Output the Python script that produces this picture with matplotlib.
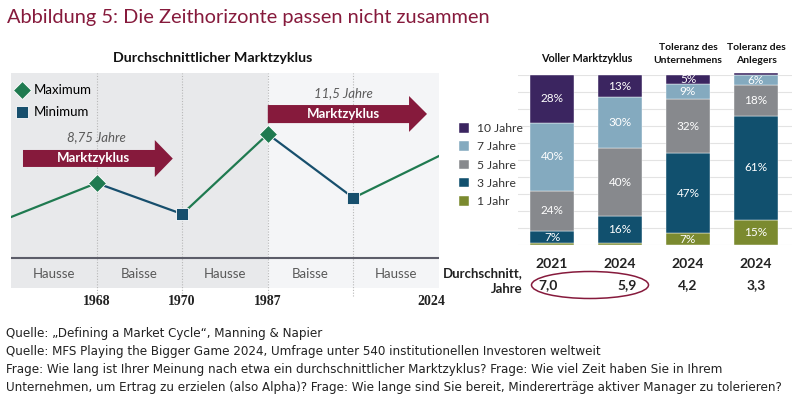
import numpy as np
import matplotlib
matplotlib.use("Agg")
from matplotlib import pyplot as plt
from matplotlib import patches
from matplotlib import font_manager
from matplotlib.lines import Line2D

# ---------------------------------------------------------
# data
# ---------------------------------------------------------

# left panel: stylised market cycle
phases = ["Hausse", "Baisse", "Hausse", "Baisse", "Hausse"]
cycle_years = ["", "1968", "1970", "1987", "", "2024"]
cycle_level = [33, 48.8, 34.4, 71.6, 41.9, 61.4]
cycle_lengths = ["8,75 Jahre", "11,5 Jahre"]

# right panel: survey answers (share in %)
bar_years = ["2021", "2024", "2024", "2024"]
bar_groups = ["Voller Marktzyklus", "Toleranz des\nUnternehmens", "Toleranz des\nAnlegers"]
share_1 = [1, 1, 7, 15]
share_3 = [7, 16, 47, 61]
share_5 = [24, 40, 32, 18]
share_7 = [40, 30, 9, 6]
share_10 = [28, 13, 5, 1]
series_names = ["1 Jahr", "3 Jahre", "5 Jahre", "7 Jahre", "10 Jahre"]
averages = ["7,0", "5,9", "4,2", "3,3"]

footer = [
    "Quelle: \u201eDefining a Market Cycle\u201c, Manning & Napier",
    "Quelle: MFS Playing the Bigger Game 2024, Umfrage unter 540 institutionellen Investoren weltweit",
    "Frage: Wie lang ist Ihrer Meinung nach etwa ein durchschnittlicher Marktzyklus? Frage: Wie viel Zeit haben Sie in Ihrem",
    "Unternehmen, um Ertrag zu erzielen (also Alpha)? Frage: Wie lange sind Sie bereit, Mindererträge aktiver Manager zu tolerieren?",
]

# colours
crimson = "#861a3c"
green = "#1f7a50"
blue = "#174f6d"
series_colors = ["#7b8a2f", "#11506e", "#87898d", "#84aabf", "#3b2560"]

plt.rcParams["font.family"] = ["Lato", "DejaVu Sans"]

# footer uses a narrow face if one is installed
narrow = [f for f in font_manager.fontManager.ttflist
          if str(f.stretch) in ("condensed", "semi-condensed", "extra-condensed")
          and f.style == "normal" and f.weight in (400, "normal", "regular")]
if narrow:
    foot_family = [narrow[0].name, "DejaVu Sans"]
    foot_stretch = narrow[0].stretch
else:
    foot_family = ["Roboto", "DejaVu Sans"]
    foot_stretch = "normal"

fig = plt.figure(figsize=(8, 3.99), dpi=100)


def fx(px):
    return px / 800


def fy(py):
    return (399 - py) / 399


# ---------------------------------------------------------
# title + footer
# ---------------------------------------------------------
fig.text(fx(7), fy(18), "Abbildung 5: Die Zeithorizonte passen nicht zusammen",
         color=crimson, fontsize=14.4, va="center", ha="left")

foot_texts = []
for i, line in enumerate(footer):
    t = fig.text(fx(6), fy(334 + i * 17.8), line, fontsize=10.5, va="center", ha="left",
                 color="#222222", family=foot_family, fontstretch=foot_stretch)
    foot_texts.append(t)

# shrink footer so that the longest line spans ~784 px
renderer = fig.canvas.get_renderer()
w = foot_texts[3].get_window_extent(renderer).width
for t in foot_texts:
    t.set_fontsize(10.5 * 784 / w)

# ---------------------------------------------------------
# left panel
# ---------------------------------------------------------
ax = fig.add_axes([fx(11), fy(288), fx(439) - fx(11), fy(73) - fy(288)])
x = np.arange(len(cycle_level))
ax.set_xlim(0, x[-1])
ax.set_ylim(0, 100)
ax.axis("off")

ax.axvspan(0, 3, color="#e8e9eb", lw=0, zorder=0)
ax.axvspan(3, 5, color="#f4f5f7", lw=0, zorder=0)
ax.axhline(14, color="#5c5d69", lw=1.5, zorder=2)

for xi in x[1:-1]:
    ax.plot([xi, xi], [-3.5, 100], color="#b8b8b8", lw=0.8, ls=(0, (1, 1.5)),
            clip_on=False, zorder=1)

for i, name in enumerate(phases):
    ax.text(i + 0.5, 6.5, name, ha="center", va="center", fontsize=9.5, color="#595959")

for i, yr in enumerate(cycle_years):
    if yr:
        ax.text(x[i] + (0.07 if i == len(x) - 1 else 0), -6.5, yr,
                ha="right" if i == len(x) - 1 else "center", va="center",
                fontsize=10, fontweight="bold", color="#222222",
                family=["Liberation Serif", "DejaVu Serif"])

# line: green when rising, blue when falling
for i in range(len(x) - 1):
    c = green if cycle_level[i + 1] > cycle_level[i] else blue
    ax.plot(x[i:i + 2], cycle_level[i:i + 2], color=c, lw=1.6, zorder=3)

tops = [i for i in range(1, len(x) - 1) if cycle_level[i] > cycle_level[i - 1]]
lows = [i for i in range(1, len(x) - 1) if cycle_level[i] < cycle_level[i - 1]]
ax.plot(x[tops], np.array(cycle_level)[tops], "D", color=green, ms=9,
        mec="white", mew=0.6, zorder=4)
ax.plot(x[lows], np.array(cycle_level)[lows], "s", color=blue, ms=8.5,
        mec="white", mew=0.6, zorder=4)

leg_handles = [Line2D([], [], marker="D", ls="", color=green, ms=9, mec="white", mew=0.6),
               Line2D([], [], marker="s", ls="", color=blue, ms=8.5, mec="white", mew=0.6)]
ax.legend(leg_handles, ["Maximum", "Minimum"], loc="upper left", bbox_to_anchor=(-0.012, 0.99),
          frameon=False, fontsize=9.5, handlelength=1.0, handletextpad=0.45,
          labelspacing=0.75, borderaxespad=0.3)


def cycle_arrow(x0, x1, xh, y_body, y_head):
    pts = [(x0, y_body[0]), (xh, y_body[0]), (xh, y_head[0]), (x1, sum(y_head) / 2),
           (xh, y_head[1]), (xh, y_body[1]), (x0, y_body[1])]
    ax.add_patch(patches.Polygon(pts, closed=True, color="#861a3c", lw=0, zorder=3))


cycle_arrow(0.14, 1.89, 1.68, (56.3, 64.2), (51.6, 68.8))
cycle_arrow(3.0, 4.86, 4.65, (76.7, 85.1), (72.6, 89.3))
ax.text(0.96, 60.3, "Marktzyklus", color="white", fontweight="bold", fontsize=9.5,
        ha="center", va="center", zorder=5)
ax.text(3.88, 80.9, "Marktzyklus", color="white", fontweight="bold", fontsize=9.5,
        ha="center", va="center", zorder=5)
ax.text(1.0, 70.2, cycle_lengths[0], style="italic", color="#5a5a5a", fontsize=9.5,
        ha="center", va="center")
ax.text(3.88, 90.4, cycle_lengths[1], style="italic", color="#5a5a5a", fontsize=9.5,
        ha="center", va="center")

fig.text(fx(213), fy(58), "Durchschnittlicher Marktzyklus", fontweight="bold",
         fontsize=10.3, ha="center", va="center", color="#111111")

# ---------------------------------------------------------
# right panel: stacked bars
# ---------------------------------------------------------
bx = fig.add_axes([fx(518), fy(245), fx(792) - fx(518), fy(75) - fy(245)])
pos = np.arange(len(bar_years))
bx.set_xlim(-0.5, 3.53)
bx.set_ylim(0, 100)
for s in bx.spines.values():
    s.set_visible(False)
bx.set_yticks(np.arange(0, 101, 10))
bx.set_yticklabels([])
bx.grid(axis="y", color="#e3e3e3", lw=0.8)
bx.set_axisbelow(True)
bx.tick_params(length=0)

bottom = np.zeros(len(pos))
for vals, color, name in zip([share_1, share_3, share_5, share_7, share_10],
                             series_colors, series_names):
    vals = np.array(vals, dtype=float)
    bx.bar(pos, vals, 0.65, bottom=bottom, color=color, label=name, clip_on=False,
           edgecolor="white", lw=0.3, zorder=2)
    for p, v, b in zip(pos, vals, bottom):
        if v >= 5:
            bx.text(p, b + v / 2, f"{v:.0f}%", color="white", fontsize=8.5,
                    ha="center", va="center", zorder=3)
    bottom += vals

bx.set_xticks(pos)
bx.set_xticklabels(bar_years, fontweight="bold", fontsize=10, color="#222222")
bx.tick_params(axis="x", pad=9)

handles, labels = bx.get_legend_handles_labels()
fig.legend(handles[::-1], labels[::-1], loc="upper left", bbox_to_anchor=(fx(459), fy(123)),
           frameon=False, fontsize=8.7, handlelength=0.85, handleheight=0.85,
           handletextpad=0.6, labelspacing=0.6, borderaxespad=0, borderpad=0,
           labelcolor="#333333")

fig.text(fx(587), fy(59), bar_groups[0], fontweight="bold", fontsize=7.8,
         ha="center", va="center", color="#111111")
fig.text(fx(688), fy(54), bar_groups[1], fontweight="bold", fontsize=7.5,
         ha="center", va="center", color="#111111", linespacing=1.5)
fig.text(fx(756), fy(54), bar_groups[2], fontweight="bold", fontsize=7.5,
         ha="center", va="center", color="#111111", linespacing=1.5)

fig.text(fx(523), fy(281), "Durchschnitt,\nJahre", fontweight="bold", fontsize=9.5,
         ha="right", va="center", color="#222222", linespacing=1.35)
avg_shift = [-0.06, 0.1, 0, 0]
for p, a, sh in zip(pos, averages, avg_shift):
    bx.text(p + sh, -23.5, a, fontweight="bold", fontsize=10, ha="center", va="center",
            color="#222222", clip_on=False)

fig.add_artist(patches.Ellipse((fx(590), fy(285)), fx(117), 27 / 399, fill=False,
                               edgecolor=crimson, lw=1.1, transform=fig.transFigure))

fig.savefig("out.png", dpi=100, facecolor="white")
